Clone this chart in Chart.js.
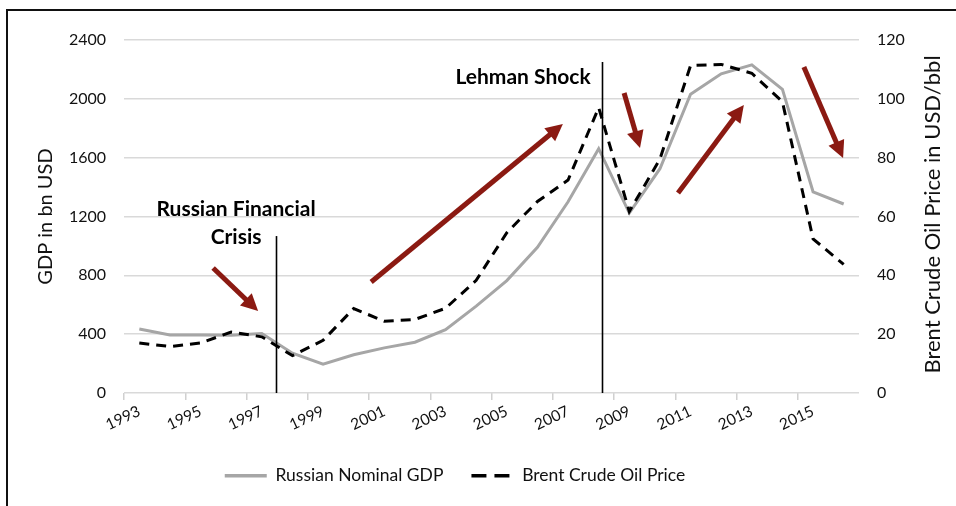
<!DOCTYPE html>
<html>
<head>
<meta charset="utf-8">
<script src="https://cdn.jsdelivr.net/npm/chart.js@4.4.0/dist/chart.umd.min.js"></script>
<style>
  body { margin: 0; background: #fff; }
  #wrap { position: relative; width: 956px; height: 506px; overflow: hidden; }
  #frame { position: absolute; left: 6px; top: 9px; width: 1000px; height: 600px;
           border-left: 2px solid #111; border-top: 2px solid #111; }
  canvas { position: absolute; left: 0; top: 0; }
</style>
</head>
<body>
<div id="wrap">
  <div id="frame"></div>
  <canvas id="chart" width="956" height="506"></canvas>
</div>
<script>
const years = ["1993", "1994", "1995", "1996", "1997", "1998", "1999", "2000",
  "2001", "2002", "2003", "2004", "2005", "2006", "2007", "2008",
  "2009", "2010", "2011", "2012", "2013", "2014", "2015", "2016"];

// Russian nominal GDP, bn USD
const gdp = [435, 395, 395, 392, 405, 271, 196, 260, 307, 345, 430, 591,
  764, 990, 1300, 1661, 1223, 1525, 2031, 2170, 2231, 2064, 1368, 1285];

// Brent crude, USD/bbl
const oil = [17.0, 15.8, 17.0, 20.7, 19.1, 12.7, 17.9, 28.7, 24.4, 25.0, 28.8, 38.3,
  54.5, 65.1, 72.4, 97.0, 61.7, 79.5, 111.3, 111.7, 108.7, 99.0, 52.4, 43.7];

const gdpTicks = [0, 400, 800, 1200, 1600, 2000, 2400];
const oilTicks = [0, 20, 40, 60, 80, 100, 120];

// annotations in chart units: x = category index, y = GDP axis
const eventLines = [
  { x: 4.47, top: 1067 },
  { x: 15.12, top: 2250 }
];
const notes = [
  { text: "Russian Financial", x: 3.16, y: 1251 },
  { text: "Crisis", x: 3.16, y: 1061 },
  { text: "Lehman Shock", x: 12.53, y: 2148 }
];
const arrows = [
  [2.41, 850, 3.88, 557],
  [7.57, 755, 13.83, 1829],
  [15.83, 2040, 16.35, 1666],
  [17.59, 1360, 19.74, 1958],
  [21.70, 2216, 22.98, 1598]
];

const FONT = "Lato";
Chart.defaults.font.family = FONT;
Chart.defaults.color = "#111";

function drawArrow(ctx, x1, y1, x2, y2) {
  const ang = Math.atan2(y2 - y1, x2 - x1);
  const head = 17, half = 8.5;
  const bx = x2 - head * Math.cos(ang), by = y2 - head * Math.sin(ang);
  ctx.strokeStyle = "#8b1a12";
  ctx.fillStyle = "#8b1a12";
  ctx.lineWidth = 5;
  ctx.beginPath();
  ctx.moveTo(x1, y1);
  ctx.lineTo(bx + 2 * Math.cos(ang), by + 2 * Math.sin(ang));
  ctx.stroke();
  ctx.beginPath();
  ctx.moveTo(x2, y2);
  ctx.lineTo(bx + half * Math.sin(ang), by - half * Math.cos(ang));
  ctx.lineTo(bx - half * Math.sin(ang), by + half * Math.cos(ang));
  ctx.closePath();
  ctx.fill();
}

const annotations = {
  id: "annotations",
  afterDatasetsDraw(chart) {
    const { ctx, chartArea, scales: { x, y, y1 } } = chart;
    ctx.save();
    ctx.strokeStyle = "#000";
    ctx.lineWidth = 1.6;
    eventLines.forEach((l) => {
      const px = Math.round(x.getPixelForValue(l.x)) + 0.5;
      ctx.beginPath();
      ctx.moveTo(px, y.getPixelForValue(l.top));
      ctx.lineTo(px, y.getPixelForValue(0));
      ctx.stroke();
    });
    ctx.fillStyle = "#000";
    ctx.font = "bold 21px " + FONT;
    ctx.textAlign = "center";
    ctx.textBaseline = "middle";
    notes.forEach((n) => {
      ctx.fillText(n.text, x.getPixelForValue(n.x), y.getPixelForValue(n.y));
    });
    arrows.forEach((a) => {
      drawArrow(ctx, x.getPixelForValue(a[0]), y.getPixelForValue(a[1]),
        x.getPixelForValue(a[2]), y.getPixelForValue(a[3]));
    });
    // right axis title reads bottom-to-top, as in the original
    ctx.fillStyle = "#111";
    ctx.font = "22px " + FONT;
    ctx.translate(y1.right - 23, (chartArea.top + chartArea.bottom) / 2 - 2);
    ctx.rotate(-Math.PI / 2);
    ctx.fillText("Brent Crude Oil Price in USD/bbl", 0, 0);
    ctx.restore();
  }
};

const legendShift = {
  id: "legendShift",
  afterLayout(chart) {
    chart.legend.left -= 23;
    chart.legend.right -= 23;
  }
};

const legendDash = { "Russian Nominal GDP": [], "Brent Crude Oil Price": [15, 8] };

new Chart(document.getElementById("chart"), {
  type: "line",
  data: {
    labels: years,
    datasets: [
      {
        label: "Russian Nominal GDP",
        data: gdp,
        yAxisID: "y",
        borderColor: "#a6a6a6",
        backgroundColor: "#a6a6a6",
        borderWidth: 3,
        pointRadius: 0,
        pointStyle: "line",
        tension: 0,
        order: 1
      },
      {
        label: "Brent Crude Oil Price",
        data: oil,
        yAxisID: "y1",
        borderColor: "#000",
        backgroundColor: "#000",
        borderWidth: 3,
        borderDash: [10, 7],
        pointRadius: 0,
        pointStyle: "line",
        tension: 0,
        order: 0
      }
    ]
  },
  options: {
    responsive: false,
    animation: false,
    layout: { padding: { left: 0, right: 0, top: 40, bottom: 11.5 } },
    scales: {
      x: {
        offset: true,
        grid: {
          offset: true,
          drawOnChartArea: false,
          tickLength: 7,
          lineWidth: 1.5,
          color: (c) => (c.index % 2 === 0 ? "#d0d0d0" : "rgba(0,0,0,0)")
        },
        border: { display: false },
        ticks: {
          autoSkip: false,
          maxRotation: 25,
          minRotation: 25,
          padding: 2,
          font: { size: 15.5 },
          callback: function (v, i) { return i % 2 === 0 ? years[i] : ""; }
        },
        afterFit: (s) => { s.height = 46; }
      },
      y: {
        position: "left",
        min: gdpTicks[0],
        max: gdpTicks[gdpTicks.length - 1],
        afterBuildTicks: (s) => { s.ticks = gdpTicks.map((v) => ({ value: v })); },
        grid: { color: "#d9d9d9", lineWidth: 1.5, drawTicks: false },
        border: { display: false },
        ticks: { padding: 18, font: { size: 16 }, callback: (v) => String(v) },
        title: {
          display: true,
          text: "GDP in bn USD",
          font: { size: 20 },
          padding: { top: 34, bottom: 0 }
        },
        afterFit: (s) => { s.width = 124; }
      },
      y1: {
        position: "right",
        min: oilTicks[0],
        max: oilTicks[oilTicks.length - 1],
        afterBuildTicks: (s) => { s.ticks = oilTicks.map((v) => ({ value: v })); },
        grid: { drawOnChartArea: false, drawTicks: false },
        border: { display: false },
        ticks: { padding: 18, font: { size: 16 }, callback: (v) => String(v) },
        afterFit: (s) => { s.width = 956 - 859; }
      }
    },
    plugins: {
      legend: {
        position: "bottom",
        labels: {
          usePointStyle: true,
          pointStyleWidth: 42,
          boxHeight: 3,
          padding: 28,
          font: { size: 17.5 },
          color: "#111",
          sort: (a, b) => a.datasetIndex - b.datasetIndex,
          generateLabels: (chart) =>
            Chart.defaults.plugins.legend.labels.generateLabels(chart).map((item) => {
              const ds = chart.data.datasets[item.datasetIndex];
              item.lineDash = legendDash[ds.label];
              item.lineWidth = 3.5;
              item.strokeStyle = ds.borderColor;
              return item;
            })
        }
      },
      tooltip: { enabled: false }
    }
  },
  plugins: [annotations, legendShift]
});
</script>
</body>
</html>
